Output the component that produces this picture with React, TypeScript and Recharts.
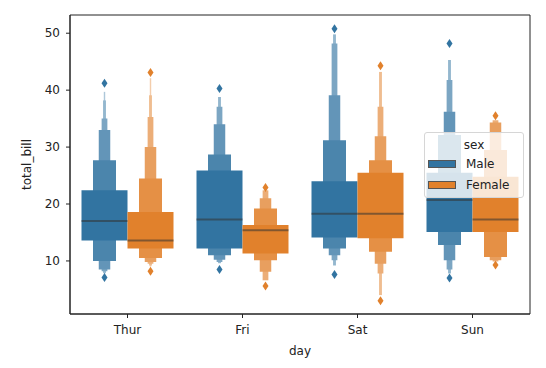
import React from "react";
import {
  ScatterChart,
  Scatter,
  XAxis,
  YAxis,
  ReferenceArea,
  ReferenceLine,
} from "recharts";

const days = ["Thur", "Fri", "Sat", "Sun"];
const sexes = ["Male", "Female"];

// letter-value boxes per day, innermost first: [low, high]
const maleBoxes = [
  [[13.6, 22.4], [10.0, 27.7], [8.5, 33.0], [8.2, 35.0], [7.9, 38.2], [7.7, 39.7]],
  [[12.2, 25.9], [11.0, 28.7], [10.2, 34.0], [9.8, 37.1], [9.6, 38.8]],
  [[14.1, 24.0], [12.2, 31.2], [11.0, 39.1], [10.1, 48.2], [9.2, 49.8]],
  [[15.1, 25.5], [12.8, 32.1], [10.1, 36.2], [8.5, 41.8], [7.8, 45.3]],
];
const femaleBoxes = [
  [[12.2, 18.6], [10.5, 24.5], [9.8, 30.0], [9.5, 35.3], [9.2, 39.1], [9.0, 42.1]],
  [[11.3, 16.3], [10.1, 19.2], [8.1, 21.0], [6.6, 22.4]],
  [[14.0, 25.5], [11.6, 27.7], [9.5, 31.9], [7.8, 37.1], [4.0, 43.2]],
  [[15.1, 24.8], [10.7, 29.5], [10.1, 34.3], [9.9, 34.7]],
];
const maleMedians = [17.0, 17.3, 18.3, 20.7];
const femaleMedians = [13.6, 15.4, 18.3, 17.3];
const maleOutliers = [[7.1, 41.2], [8.5, 40.3], [7.6, 50.8], [7.0, 48.2]];
const femaleOutliers = [[8.2, 43.1], [5.6, 22.9], [3.0, 44.3], [9.3, 35.5]];

const yTicks = [10, 20, 30, 40, 50];

const BLUE = [50, 116, 161];
const ORANGE = [225, 129, 44];
const FONT = "'DejaVu Sans', sans-serif";

const shade = (rgb: number[], i: number) => {
  const t = Math.min(i * 0.12, 0.7);
  const c = rgb.map((v) => Math.round(v + (255 - v) * t));
  return `rgb(${c[0]},${c[1]},${c[2]})`;
};

const groups = [
  { boxes: maleBoxes, medians: maleMedians, outliers: maleOutliers, rgb: BLUE, offset: -0.2 },
  { boxes: femaleBoxes, medians: femaleMedians, outliers: femaleOutliers, rgb: ORANGE, offset: 0.2 },
];

const Diamond = (props: any) => {
  const { cx, cy, fill } = props;
  return (
    <path
      d={`M${cx},${cy - 4.5} L${cx + 3},${cy} L${cx},${cy + 4.5} L${cx - 3},${cy} Z`}
      fill={fill}
    />
  );
};

export default function App() {
  const areas: React.ReactNode[] = [];
  const medianLines: React.ReactNode[] = [];

  groups.forEach((g, gi) => {
    g.boxes.forEach((levels, di) => {
      const cx = di + g.offset;
      // outermost (narrowest) first so wider inner levels sit on top
      for (let li = levels.length - 1; li >= 0; li--) {
        const w = 0.4 * Math.pow(0.5, li);
        areas.push(
          <ReferenceArea
            key={`a-${gi}-${di}-${li}`}
            x1={cx - w / 2}
            x2={cx + w / 2}
            y1={levels[li][0]}
            y2={levels[li][1]}
            fill={shade(g.rgb, li)}
            fillOpacity={1}
            stroke="none"
          />
        );
      }
      medianLines.push(
        <ReferenceLine
          key={`m-${gi}-${di}`}
          segment={[
            { x: cx - 0.2, y: g.medians[di] },
            { x: cx + 0.2, y: g.medians[di] },
          ]}
          stroke="#333"
          strokeOpacity={0.55}
          strokeWidth={2}
        />
      );
    });
  });

  const outlierData = groups.map((g) =>
    g.outliers.flatMap((pair, di) => pair.map((v) => ({ x: di + g.offset, y: v })))
  );

  return (
    <div style={{ position: "relative", width: 538, height: 360, fontFamily: FONT }}>
      <ScatterChart
        width={538}
        height={360}
        margin={{ top: 7, right: 16, bottom: 0, left: 0 }}
      >
        <XAxis
          type="number"
          dataKey="x"
          domain={[-0.5, 3.5]}
          ticks={[0, 1, 2, 3]}
          tickFormatter={(v: number) => days[v]}
          height={54}
          tickSize={4}
          tickMargin={7}
          stroke="#222"
          tick={{ fill: "#222", fontSize: 12, fontFamily: FONT }}
          label={{
            content: (p: any) => (
              <text
                x={p.viewBox.x + p.viewBox.width / 2}
                y={p.viewBox.y + 41}
                textAnchor="middle"
                fontSize={12}
                fontFamily={FONT}
                fill="#222"
              >
                day
              </text>
            ),
          }}
        />
        <YAxis
          type="number"
          dataKey="y"
          domain={[0.68, 53.2]}
          ticks={yTicks}
          width={62}
          tickSize={4}
          tickMargin={6}
          stroke="#222"
          tick={{ fill: "#222", fontSize: 12, fontFamily: FONT }}
          label={{
            content: (p: any) => {
              const x = 23;
              const y = p.viewBox.y + p.viewBox.height / 2;
              return (
                <text
                  x={x}
                  y={y}
                  transform={`rotate(-90, ${x}, ${y})`}
                  textAnchor="middle"
                  fontSize={12}
                  fontFamily={FONT}
                  fill="#222"
                >
                  total_bill
                </text>
              );
            },
          }}
        />
        {areas}
        {medianLines}
        {groups.map((g, gi) => (
          <Scatter
            key={`s-${gi}`}
            data={outlierData[gi]}
            fill={shade(g.rgb, 0)}
            shape={Diamond}
            isAnimationActive={false}
          />
        ))}
        <ReferenceArea
          x1={-0.5}
          x2={3.5}
          y1={0.68}
          y2={53.2}
          fill="none"
          stroke="#222"
          strokeWidth={1}
        />
      </ScatterChart>
      <div
        style={{
          position: "absolute",
          left: 416,
          top: 124,
          width: 100,
          height: 66,
          boxSizing: "border-box",
          border: "1px solid #d6d6d6",
          borderRadius: 3,
          background: "rgba(255,255,255,0.8)",
          fontSize: 12,
          color: "#222",
          lineHeight: "14px",
        }}
      >
        <div style={{ position: "absolute", left: 0, width: 98, top: 5, textAlign: "center" }}>
          sex
        </div>
        {sexes.map((s, i) => (
          <React.Fragment key={s}>
            <div
              style={{
                position: "absolute",
                left: 3,
                top: 27 + i * 21,
                width: 28,
                height: 8,
                background: shade(groups[i].rgb, 0),
                border: "1px solid #555",
                boxSizing: "border-box",
              }}
            />
            <div style={{ position: "absolute", left: 41, top: 24 + i * 21 }}>{s}</div>
          </React.Fragment>
        ))}
      </div>
    </div>
  );
}
